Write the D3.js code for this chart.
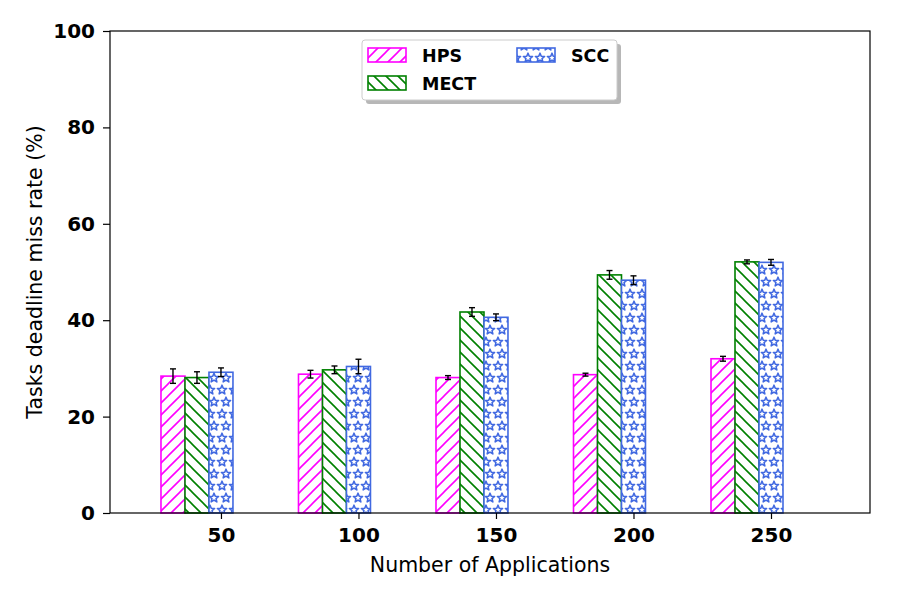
<!DOCTYPE html>
<html lang="en">
<head>
  <meta charset="UTF-8" />
  <title>Tasks deadline miss rate</title>
  <script src="https://cdn.jsdelivr.net/npm/d3@7"></script>
  <style>
    html, body { margin: 0; padding: 0; background: #fff; }
    svg { display: block; font-family: "DejaVu Sans", sans-serif; }
  </style>
</head>
<body>
  <script>
    // Data
    const categories = ["50", "100", "150", "200", "250"];
    const seriesNames = ["HPS", "MECT", "SCC"];
    const hpsValues  = [28.4, 28.8, 28.1, 28.7, 32.0];
    const mectValues = [28.1, 29.7, 41.7, 49.4, 52.1];
    const sccValues  = [29.2, 30.4, 40.6, 48.3, 52.0];
    const hpsErr  = [1.5, 0.8, 0.4, 0.3, 0.5];
    const mectErr = [1.2, 0.8, 0.9, 0.9, 0.4];
    const sccErr  = [0.9, 1.5, 0.7, 0.9, 0.6];
    const yTicks = [0, 20, 40, 60, 80, 100];

    const width = 900, height = 600;
    const margin = { left: 110, right: 30, top: 31, bottom: 87 };
    const barW = 0.1745; // in group units

    const series = [
      { name: "HPS",  values: hpsValues,  err: hpsErr,  color: "#ff00ff", pat: "hatch-hps" },
      { name: "MECT", values: mectValues, err: mectErr, color: "#008000", pat: "hatch-mect" },
      { name: "SCC",  values: sccValues,  err: sccErr,  color: "#4169e1", pat: "hatch-scc" }
    ];

    const svg = d3.select("body").append("svg")
      .attr("width", width).attr("height", height);

    const x = d3.scaleLinear()
      .domain([-0.458, 5.069])
      .range([margin.left, width - margin.right]);
    const y = d3.scaleLinear()
      .domain([0, 100])
      .range([height - margin.bottom, margin.top]);

    // hatch patterns
    const defs = svg.append("defs");
    const hps = defs.append("pattern").attr("id", "hatch-hps")
      .attr("patternUnits", "userSpaceOnUse").attr("width", 12).attr("height", 12);
    hps.append("rect").attr("width", 12).attr("height", 12).attr("fill", "#fff");
    hps.append("path").attr("d", "M-3,3 L3,-3 M0,12 L12,0 M9,15 L15,9")
      .attr("stroke", "#ff00ff").attr("stroke-width", 1.6);

    const mect = defs.append("pattern").attr("id", "hatch-mect")
      .attr("patternUnits", "userSpaceOnUse").attr("width", 12).attr("height", 12);
    mect.append("rect").attr("width", 12).attr("height", 12).attr("fill", "#fff");
    mect.append("path").attr("d", "M-3,9 L3,15 M0,0 L12,12 M9,-3 L15,3")
      .attr("stroke", "#008000").attr("stroke-width", 1.6);

    function starPath(cx, cy, r) {
      const pts = [];
      for (let i = 0; i < 10; i++) {
        const a = -Math.PI / 2 + i * Math.PI / 5;
        const rr = i % 2 === 0 ? r : r * 0.45;
        pts.push([cx + rr * Math.cos(a), cy + rr * Math.sin(a)]);
      }
      return "M" + pts.map(p => p.join(",")).join("L") + "Z";
    }
    const scc = defs.append("pattern").attr("id", "hatch-scc")
      .attr("patternUnits", "userSpaceOnUse").attr("width", 12).attr("height", 24)
      .attr("x", 2);
    scc.append("rect").attr("width", 12).attr("height", 24).attr("fill", "#fff");
    [[4, 6], [8, 18], [16, 6], [-4, 18]].forEach(([cx, cy]) => {
      scc.append("path").attr("d", starPath(cx, cy, 4.8))
        .attr("fill", "none").attr("stroke", "#4169e1").attr("stroke-width", 1.6)
        .attr("stroke-linejoin", "round");
    });

    // bars
    series.forEach((s, k) => {
      const g = svg.append("g");
      g.selectAll("rect").data(s.values).join("rect")
        .attr("x", (d, i) => x(i + k * barW - barW / 2))
        .attr("y", d => y(d))
        .attr("width", x(barW) - x(0))
        .attr("height", d => y(0) - y(d))
        .attr("fill", `url(#${s.pat})`)
        .attr("stroke", s.color)
        .attr("stroke-width", 1.6);
    });

    // error bars
    series.forEach((s, k) => {
      const g = svg.append("g").attr("stroke", "#000").attr("stroke-width", 1.4);
      s.values.forEach((v, i) => {
        const cx = x(i + k * barW);
        const e = s.err[i];
        g.append("line").attr("x1", cx).attr("x2", cx).attr("y1", y(v - e)).attr("y2", y(v + e));
        g.append("line").attr("x1", cx - 3).attr("x2", cx + 3).attr("y1", y(v - e)).attr("y2", y(v - e));
        g.append("line").attr("x1", cx - 3).attr("x2", cx + 3).attr("y1", y(v + e)).attr("y2", y(v + e));
      });
    });

    // axes
    const xAxis = d3.axisBottom(x)
      .tickValues(categories.map((c, i) => i + 2 * barW))
      .tickFormat((d, i) => categories[i])
      .tickSizeOuter(0).tickSize(6).tickPadding(9);
    const yAxis = d3.axisLeft(y)
      .tickValues(yTicks)
      .tickSizeOuter(0).tickSize(7).tickPadding(8);

    const gx = svg.append("g")
      .attr("transform", `translate(0,${height - margin.bottom})`)
      .call(xAxis);
    const gy = svg.append("g")
      .attr("transform", `translate(${margin.left},0)`)
      .call(yAxis);
    [gx, gy].forEach(g => {
      g.select(".domain").remove();
      g.selectAll("line").attr("stroke", "#000").attr("stroke-width", 1.2);
      g.selectAll("text")
        .attr("font-family", "DejaVu Sans").attr("font-size", 20)
        .attr("font-weight", "bold").attr("fill", "#000");
    });

    // frame
    svg.append("rect")
      .attr("x", margin.left).attr("y", margin.top)
      .attr("width", width - margin.left - margin.right)
      .attr("height", height - margin.top - margin.bottom)
      .attr("fill", "none").attr("stroke", "#000").attr("stroke-width", 1.2);

    // axis titles
    svg.append("text")
      .attr("x", (margin.left + width - margin.right) / 2)
      .attr("y", 572)
      .attr("text-anchor", "middle")
      .attr("font-size", 20.5)
      .text("Number of Applications");
    svg.append("text")
      .attr("transform", `translate(42,${(margin.top + height - margin.bottom) / 2}) rotate(-90)`)
      .attr("text-anchor", "middle")
      .attr("font-size", 20.5)
      .text("Tasks deadline miss rate (%)");

    // legend
    const lg = svg.append("g").attr("transform", "translate(362,40)");
    lg.append("rect").attr("x", 4).attr("y", 4).attr("width", 255).attr("height", 60)
      .attr("rx", 3).attr("fill", "#999").attr("opacity", 0.7);
    lg.append("rect").attr("width", 255).attr("height", 60).attr("rx", 3)
      .attr("fill", "#fff").attr("stroke", "#ccc").attr("stroke-width", 1);
    const legendPos = [[6, 8], [6, 36], [155, 8]];
    series.forEach((s, k) => {
      const [lx, ly] = legendPos[k];
      lg.append("rect").attr("x", lx).attr("y", ly).attr("width", 38).attr("height", 14)
        .attr("fill", `url(#${s.pat})`).attr("stroke", s.color).attr("stroke-width", 1.6);
      lg.append("text").attr("x", lx + 54).attr("y", ly + 14)
        .attr("font-size", 17.5).attr("font-weight", "bold")
        .text(seriesNames[k]);
    });
  </script>
</body>
</html>
